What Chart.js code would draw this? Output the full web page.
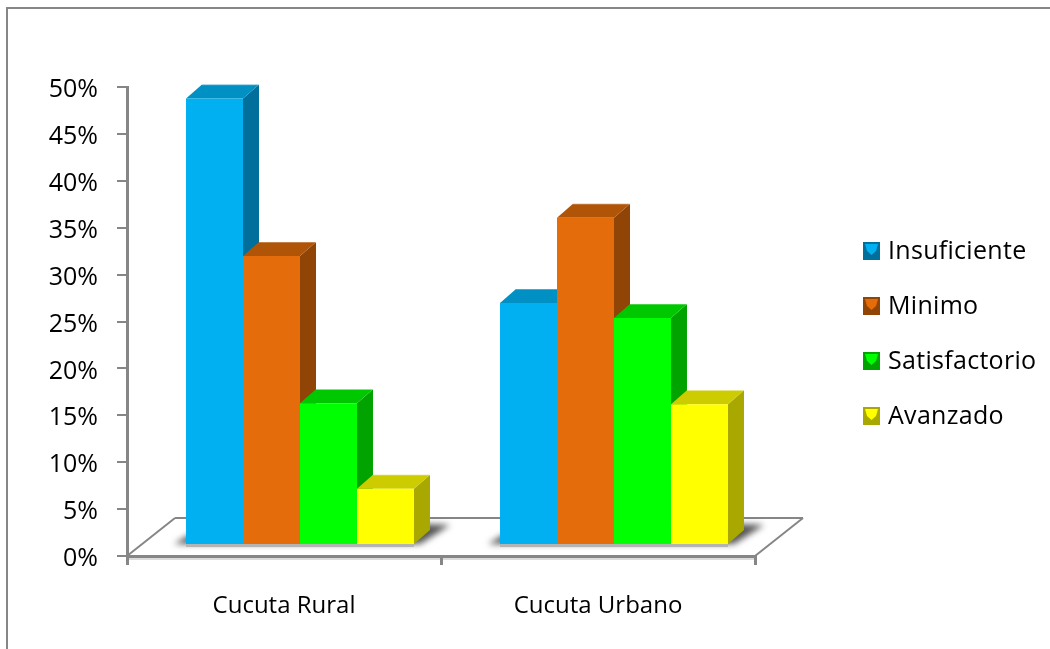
<!DOCTYPE html>
<html>
<head>
<meta charset="utf-8">
<style>
html, body { margin: 0; padding: 0; background: #fff; overflow: hidden; }
canvas { display: block; }
</style>
<script src="https://cdn.jsdelivr.net/npm/chart.js@4/dist/chart.umd.min.js"></script>
</head>
<body>
<canvas id="chart" width="1050" height="649"></canvas>
<script>
// values
const categories = ["Cucuta Rural", "Cucuta Urbano"];
const seriesNames = ["Insuficiente", "Minimo", "Satisfactorio", "Avanzado"];
const insuficiente = [47.6, 25.8];
const minimo = [30.8, 34.9];
const satisfactorio = [15.1, 24.2];
const avanzado = [6.0, 15.0];
const seriesValues = [insuficiente, minimo, satisfactorio, avanzado];

const frontColors = ["#00B0F0", "#E46C0A", "#00FF00", "#FFFF00"];
const sideColors = ["#006F9C", "#904507", "#00A300", "#A8A800"];
const topColors = ["#0090C4", "#B05508", "#00C800", "#CCCC00"];

const FONT = "'Open Sans'";
const GREY = "#868686";
// how far the bars sit in front of the axis wall, and the depth of each box
const SHIFT_X = 16, SHIFT_Y = -11;
const DEPTH_X = 16, DEPTH_Y = -14;

function line(ctx, x1, y1, x2, y2, color, width) {
    ctx.strokeStyle = color;
    ctx.lineWidth = width;
    ctx.beginPath();
    ctx.moveTo(x1, y1);
    ctx.lineTo(x2, y2);
    ctx.stroke();
}

function poly(ctx, pts, color) {
    ctx.fillStyle = color;
    ctx.beginPath();
    pts.forEach((p, i) => (i ? ctx.lineTo(p[0], p[1]) : ctx.moveTo(p[0], p[1])));
    ctx.closePath();
    ctx.fill();
}

// outer frame, floor of the 3D plot
const backdrop = {
    id: "backdrop",
    beforeDraw(chart) {
        const { ctx, chartArea: a } = chart;
        ctx.save();
        line(ctx, 7, 8, 7, 649, GREY, 2);
        line(ctx, 6, 8, 1050, 8, GREY, 2);
        const bx = a.left + 48, by = a.bottom - 38;
        line(ctx, a.left, a.bottom, bx, by, GREY, 2);
        line(ctx, bx, by, a.right + 48, by, GREY, 2);
        line(ctx, a.right + 48, by, a.right, a.bottom, GREY, 2);
        line(ctx, a.left, a.bottom + 3, a.right, a.bottom + 3, "#dcdcdc", 2);
        ctx.restore();
    },
};

// side and top faces behind the library's own bars, which are moved forward
const boxes = {
    id: "boxes",
    beforeDatasetsDraw(chart) {
        const ctx = chart.ctx;
        ctx.save();
        ctx.translate(SHIFT_X, SHIFT_Y);
        const first = chart.getDatasetMeta(0).data;
        const last = chart.getDatasetMeta(seriesNames.length - 1).data;
        first.forEach((bar, i) => {
            const left = bar.x - bar.width / 2;
            const right = last[i].x + last[i].width / 2;
            const base = bar.base;
            ctx.save();
            ctx.filter = "blur(3px)";
            poly(ctx, [[left - 12, base], [right + 6, base], [right + 36, base - 19], [right + 10, base - 20], [left + 8, base - 12]], "#555");
            ctx.restore();
            line(ctx, left, base + 1.5, right, base + 1.5, "#b4b4b4", 3);
        });
        seriesNames.forEach((name, d) => {
            chart.getDatasetMeta(d).data.forEach((bar) => {
                const l = bar.x - bar.width / 2, r = bar.x + bar.width / 2;
                const t = bar.y, b = bar.base;
                poly(ctx, [[r, t], [r + DEPTH_X, t + DEPTH_Y], [r + DEPTH_X, b + DEPTH_Y], [r, b]], sideColors[d]);
                poly(ctx, [[l, t], [l + DEPTH_X, t + DEPTH_Y], [r + DEPTH_X, t + DEPTH_Y], [r, t]], topColors[d]);
                line(ctx, l + DEPTH_X, t + DEPTH_Y, r + DEPTH_X, t + DEPTH_Y, "rgba(255,255,255,0.35)", 1.5);
            });
        });
    },
    afterDatasetsDraw(chart) {
        chart.ctx.restore();
    },
};

// legend with the small bevelled keys
const keys = {
    id: "keys",
    afterDraw(chart) {
        const ctx = chart.ctx;
        ctx.save();
        ctx.textBaseline = "middle";
        ctx.textAlign = "left";
        ctx.font = "25px " + FONT;
        ctx.letterSpacing = "0.3px";
        seriesNames.forEach((name, d) => {
            const x = 863, y = 242 + d * 55, s = 17;
            ctx.fillStyle = sideColors[d];
            ctx.fillRect(x, y, s, s + 1);
            poly(ctx, [[x + 2, y + 2], [x + s - 2, y + 2], [x + s - 4, y + 9], [x + s / 2, y + 13], [x + 4, y + 9]], frontColors[d]);
            ctx.fillStyle = "#000";
            ctx.fillText(name, 888, y + 10);
        });
        ctx.restore();
    },
};

new Chart(document.getElementById("chart").getContext("2d"), {
    type: "bar",
    data: {
        labels: categories,
        datasets: seriesNames.map((name, d) => ({
            label: name,
            data: seriesValues[d],
            backgroundColor: frontColors[d],
            categoryPercentage: 0.726,
            barPercentage: 1,
            clip: false,
        })),
    },
    options: {
        responsive: false,
        animation: false,
        layout: { padding: { top: 87, right: 295, bottom: 0, left: 0 } },
        plugins: { legend: { display: false }, tooltip: { enabled: false } },
        scales: {
            x: {
                afterFit(scale) { scale.height = 93; },
                border: { color: GREY, width: 3 },
                grid: { drawOnChartArea: false, color: GREY, lineWidth: 3, tickLength: 9 },
                ticks: { color: "#000", font: { family: FONT, size: 24 }, padding: 27, maxRotation: 0 },
            },
            y: {
                min: 0,
                max: 50,
                afterFit(scale) { scale.width = 127; },
                border: { color: GREY, width: 3 },
                grid: { drawOnChartArea: false, color: GREY, lineWidth: 2, tickLength: 10 },
                ticks: {
                    stepSize: 5,
                    color: "#000",
                    font: { family: FONT, size: 25 },
                    padding: 19,
                    labelOffset: 3,
                    callback: (v) => v + "%",
                },
            },
        },
    },
    plugins: [backdrop, boxes, keys],
});
</script>
</body>
</html>
